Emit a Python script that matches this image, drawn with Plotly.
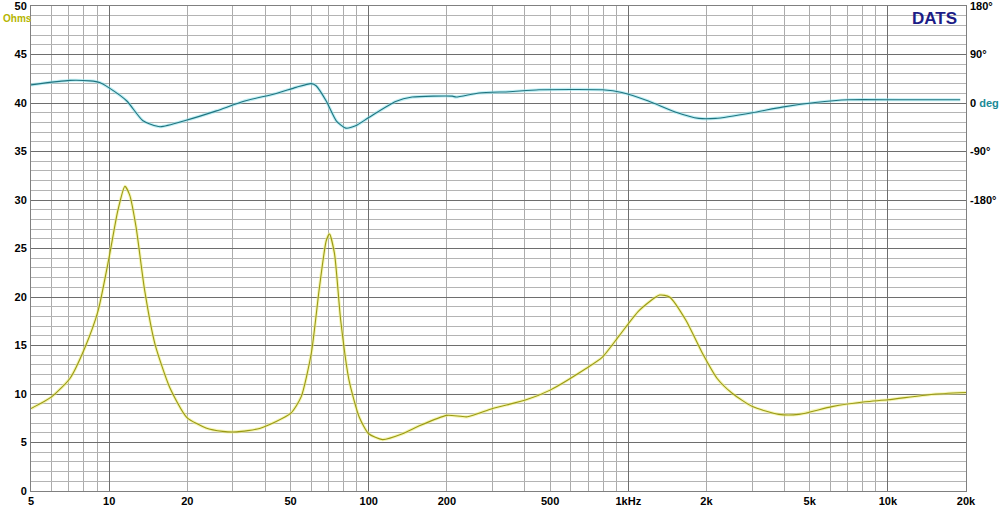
import plotly.graph_objects as go

# Impedance (Ohms) vs frequency (Hz)
imp_freq = [5, 6.0, 7.06, 8.07, 9.07, 10.0, 10.8, 11.5, 12.0, 12.7, 13.7, 15.0, 17.1, 19.9, 23.6,
            27.4, 31, 38, 50, 54.9, 60.1, 64.6, 68.6, 70.6, 73.8, 78, 84, 92, 100, 113, 135, 156,
            200, 240, 300, 404, 500, 685, 795, 922, 1100, 1320, 1442, 1667, 1930, 2200, 2520, 3010,
            3800, 4540, 6090, 8180, 10000, 14680, 20000]
imp_ohm = [8.5, 9.7, 11.6, 14.8, 18.6, 24.1, 28.9, 31.4, 30.5, 27.2, 20.7, 15.2, 10.7, 7.6, 6.5,
           6.15, 6.1, 6.45, 8.0, 9.7, 14.2, 21.0, 25.8, 26.5, 24.5, 17.6, 11.4, 7.6, 5.9, 5.3, 5.9, 6.7,
           7.8, 7.65, 8.5, 9.4, 10.4, 12.6, 13.8, 16.0, 18.6, 20.2, 20.0, 17.6, 14.2, 11.6, 10.05, 8.7,
           7.9, 7.9, 8.7, 9.2, 9.4, 9.95, 10.15]

# Phase (degrees) vs frequency (Hz)
ph_freq = [5, 7.06, 8.43, 9.2, 10, 11.7, 13.5, 15.7, 19.8, 25.9, 32.8, 44, 52.5, 60, 62.7, 68.6,
           75, 81.6, 89, 100, 127, 147, 210, 217, 266, 348, 453, 795, 945, 1195, 1516, 1870, 2170,
           3010, 3910, 5245, 7050, 10980, 19000]
ph_deg = [33.7, 42, 41, 38, 28, 3.7, -33, -44, -32, -14.6, 2.8, 17.7, 29, 36, 32, 3.7,
          -33, -46.6, -42.3, -27, 2.8, 11, 12.7, 11, 18.5, 21, 24.5, 24.5, 19.5, 3.7, -16.6, -28.6, -28.6,
          -18, -7.6, 0.9, 6, 6, 6]

x_tickvals = [5, 10, 20, 50, 100, 200, 500, 1000, 2000, 5000, 10000, 20000]
x_ticktext = ["5", "10", "20", "50", "100", "200", "500", "1kHz", "2k", "5k", "10k", "20k"]
decades = [10, 100, 1000, 10000]
y_tickvals = [0, 5, 10, 15, 20, 25, 30, 35, 40, 45, 50]
ph_tickvals = [-180, -90, 0, 90, 180]
ph_ticktext = ["-180°", "-90°", "0 <span style='color:#1a8a96'>deg</span>", "90°", "180°"]

xr = [0.69897, 4.30103]
FAM = "Liberation Sans, Arial, sans-serif"
font = dict(family=FAM, size=11, color="black", weight="bold")

fig = go.Figure()
# impedance: glow + core
fig.add_trace(go.Scatter(x=imp_freq, y=imp_ohm, mode="lines", line=dict(color="rgba(238,238,120,0.55)", width=3.2, shape="spline", smoothing=0.6), hoverinfo="skip", showlegend=False))
fig.add_trace(go.Scatter(x=imp_freq, y=imp_ohm, mode="lines", line=dict(color="#9a9a14", width=1.1, shape="spline", smoothing=0.6), name="Impedance", showlegend=False))
# phase: glow + core
fig.add_trace(go.Scatter(x=ph_freq, y=ph_deg, xaxis="x2", yaxis="y2", mode="lines", line=dict(color="rgba(140,225,235,0.55)", width=3.2, shape="spline", smoothing=0.6), hoverinfo="skip", showlegend=False))
fig.add_trace(go.Scatter(x=ph_freq, y=ph_deg, xaxis="x2", yaxis="y2", mode="lines", line=dict(color="#1f7480", width=1.1, shape="spline", smoothing=0.6), name="Phase", showlegend=False))

fig.update_layout(
    width=1000, height=507,
    margin=dict(l=31, r=34, t=6, b=16),
    paper_bgcolor="white", plot_bgcolor="white",
    xaxis=dict(type="log", range=xr, tickmode="array", tickvals=x_tickvals, ticktext=x_ticktext,
               showgrid=True, gridcolor="#acacac", gridwidth=1, ticks="", tickfont=font,
               minor=dict(dtick="D1", showgrid=True, gridcolor="#acacac", gridwidth=1, ticks=""),
               showline=True, linecolor="#808080", mirror=True, zeroline=False, ticklabelstandoff=0,
               automargin=False, ticklabeloverflow="allow"),
    xaxis2=dict(type="log", range=xr, overlaying="x", tickmode="array", tickvals=decades,
                showticklabels=False, showgrid=True, gridcolor="#6e6e6e", gridwidth=1, ticks="",
                anchor="y2", side="bottom", showline=False, zeroline=False, automargin=False),
    yaxis=dict(range=[0, 50], tickmode="array", tickvals=y_tickvals, showgrid=True, gridcolor="#6e6e6e",
               ticks="", tickfont=font, zeroline=False,
               minor=dict(dtick=1, showgrid=True, gridcolor="#b4b4b4", ticks=""),
               showline=True, linecolor="#808080", mirror=True, ticklabelstandoff=1,
               automargin=False, ticklabeloverflow="allow"),
    yaxis2=dict(range=[-720, 180], overlaying="y", side="right", anchor="x2", tickmode="array",
                tickvals=ph_tickvals, ticktext=ph_ticktext, showgrid=False, zeroline=False,
                ticks="", tickfont=font, ticklabelstandoff=3, automargin=False,
                ticklabeloverflow="allow"),
    annotations=[
        dict(text="Ohms", xref="paper", yref="paper", x=0, y=1, xanchor="left", yanchor="top",
             xshift=-30, yshift=-5, showarrow=False,
             font=dict(family=FAM, size=10, color="#b5b500", weight="bold")),
        dict(text="DATS", xref="paper", yref="paper", x=0.993, y=1, xanchor="right", yanchor="top",
             yshift=-1, showarrow=False,
             font=dict(family=FAM, size=17, color="#1c1c86", weight="bold")),
    ],
)

fig.write_html("out.html", config={"displayModeBar": False})

# remove the browser's default body margin so the figure sits at the page origin
with open("out.html", "r", encoding="utf-8") as fh:
    html = fh.read()
html = html.replace("<body>", "<body style=\"margin:0;padding:0;overflow:hidden\">", 1)
with open("out.html", "w", encoding="utf-8") as fh:
    fh.write(html)
